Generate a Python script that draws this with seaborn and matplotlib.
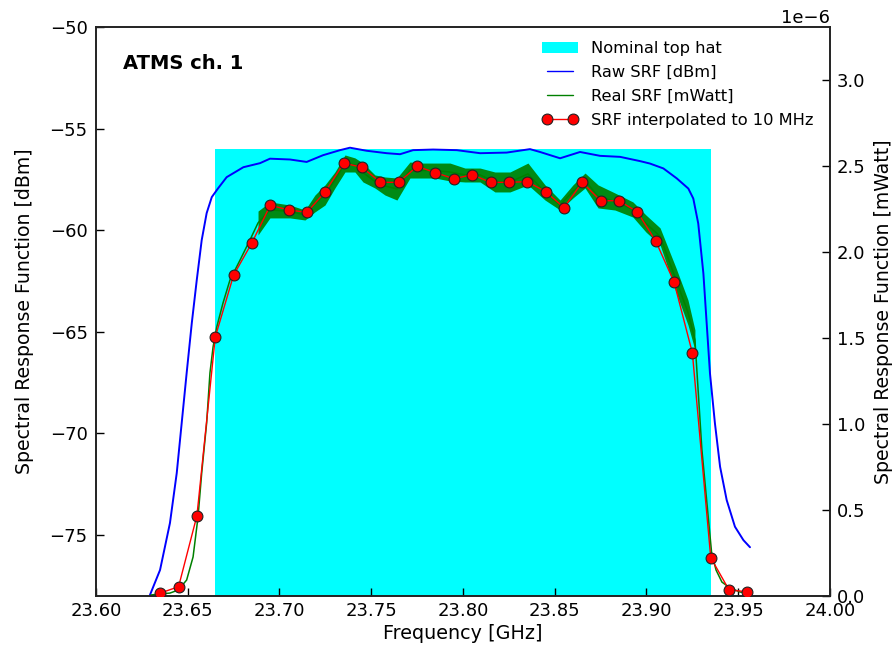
import matplotlib
matplotlib.use("Agg")
import matplotlib.pyplot as plt
import seaborn as sns
import pandas as pd
from matplotlib.ticker import FormatStrFormatter
from matplotlib.patches import Patch
from matplotlib.lines import Line2D

# ---------------- data ----------------
title_text = "ATMS ch. 1"

tophat_edges = [23.665, 23.935]
tophat_level = -56.0          # dBm

raw_freq = [23.6294, 23.6349, 23.6403, 23.6440, 23.6467, 23.6494, 23.6522, 23.6549,
            23.6576, 23.6603, 23.6631, 23.6666, 23.6712, 23.6803, 23.6894, 23.6948,
            23.7057, 23.7148, 23.7237, 23.7330, 23.7384, 23.7475, 23.7584, 23.7657,
            23.7728, 23.7837, 23.7966, 23.8093, 23.8238, 23.8365, 23.8420, 23.8529,
            23.8638, 23.8747, 23.8856, 23.8965, 23.9019, 23.9092, 23.9165, 23.9228,
            23.9255, 23.9282, 23.9310, 23.9328, 23.9346, 23.9373, 23.9401, 23.9437,
            23.9482, 23.9528, 23.9564]
raw_dbm = [-77.95, -76.72, -74.41, -71.95, -69.49, -67.03, -64.57, -62.46,
           -60.49, -59.16, -58.37, -57.93, -57.39, -56.90, -56.70, -56.48,
           -56.52, -56.64, -56.31, -56.06, -55.94, -56.09, -56.21, -56.26,
           -56.06, -56.03, -56.06, -56.21, -56.18, -56.01, -56.15, -56.46,
           -56.15, -56.34, -56.39, -56.60, -56.72, -56.96, -57.45, -57.95,
           -58.44, -59.67, -62.13, -64.59, -67.05, -69.51, -71.64, -73.28,
           -74.59, -75.25, -75.60]

# real SRF [1e-6 mW]: centre line
real_freq = [23.6300, 23.6349, 23.6403, 23.6449, 23.6494, 23.6529, 23.6556, 23.6576,
             23.6603, 23.6621, 23.6638, 23.6658, 23.6692, 23.6730, 23.6785, 23.6839,
             23.6883, 23.6948, 23.7057, 23.7139, 23.7193, 23.7248, 23.7302, 23.7357,
             23.7411, 23.7455, 23.7520, 23.7575, 23.7640, 23.7711, 23.7766, 23.7847,
             23.7929, 23.8011, 23.8093, 23.8174, 23.8256, 23.8354, 23.8447, 23.8529,
             23.8599, 23.8665, 23.8736, 23.8828, 23.8926, 23.8997, 23.9074, 23.9161,
             23.9226, 23.9264, 23.9302, 23.9355, 23.9379, 23.9411, 23.9455, 23.9510,
             23.9564]
real_mw = [0.006, 0.012, 0.017, 0.035, 0.093, 0.227, 0.459, 0.715,
           1.006, 1.297, 1.448, 1.564, 1.703, 1.837, 1.953, 2.070,
           2.169, 2.245, 2.236, 2.215, 2.282, 2.332, 2.419, 2.515,
           2.506, 2.462, 2.410, 2.384, 2.366, 2.477, 2.474, 2.474,
           2.465, 2.448, 2.448, 2.407, 2.407, 2.454, 2.346, 2.273,
           2.352, 2.416, 2.323, 2.294, 2.247, 2.166, 2.091, 1.837,
           1.649, 1.489, 0.849, 0.250, 0.151, 0.081, 0.047, 0.023,
           0.017]

# real SRF noise band [1e-6 mW]
band_freq = [23.6883, 23.6948, 23.7057, 23.7139, 23.7193, 23.7248, 23.7302, 23.7357,
             23.7411, 23.7455, 23.7520, 23.7575, 23.7640, 23.7711, 23.7766, 23.7847,
             23.7929, 23.8011, 23.8093, 23.8174, 23.8256, 23.8354, 23.8447, 23.8529,
             23.8599, 23.8665, 23.8736, 23.8828, 23.8926, 23.8997, 23.9074, 23.9161,
             23.9226, 23.9264]
band_hi = [2.238, 2.291, 2.273, 2.244, 2.331, 2.390, 2.465, 2.564,
           2.547, 2.517, 2.448, 2.436, 2.430, 2.523, 2.517, 2.517,
           2.517, 2.488, 2.488, 2.465, 2.465, 2.517, 2.390, 2.302,
           2.390, 2.459, 2.390, 2.343, 2.291, 2.215, 2.140, 1.907,
           1.721, 1.547]
band_lo = [2.099, 2.198, 2.198, 2.186, 2.233, 2.273, 2.372, 2.465,
           2.465, 2.407, 2.372, 2.331, 2.302, 2.430, 2.430, 2.430,
           2.413, 2.407, 2.407, 2.349, 2.349, 2.390, 2.302, 2.244,
           2.314, 2.372, 2.256, 2.244, 2.203, 2.116, 2.041, 1.767,
           1.576, 1.430]

interp_freq = [23.635, 23.645, 23.655, 23.665, 23.675, 23.685, 23.695, 23.705,
               23.715, 23.725, 23.735, 23.745, 23.755, 23.765, 23.775, 23.785,
               23.795, 23.805, 23.815, 23.825, 23.835, 23.845, 23.855, 23.865,
               23.875, 23.885, 23.895, 23.905, 23.915, 23.925, 23.935, 23.945,
               23.955]
interp_mw = [0.017, 0.054, 0.467, 1.506, 1.866, 2.054, 2.272, 2.244,
             2.231, 2.351, 2.517, 2.492, 2.405, 2.405, 2.498, 2.461,
             2.426, 2.449, 2.405, 2.405, 2.409, 2.351, 2.258, 2.405,
             2.298, 2.298, 2.233, 2.064, 1.826, 1.413, 0.223, 0.035,
             0.025]

xticks = [23.60, 23.65, 23.70, 23.75, 23.80, 23.85, 23.90, 23.95, 24.00]
yticks_left = [-75, -70, -65, -60, -55, -50]
yticks_right = [0.0, 0.5, 1.0, 1.5, 2.0, 2.5, 3.0]
scale_right = 1e-6

# ---------------- style ----------------
sns.set_style("ticks", {"xtick.direction": "in", "ytick.direction": "in",
                        "axes.edgecolor": "black", "axes.labelcolor": "black",
                        "text.color": "black", "xtick.color": "black",
                        "ytick.color": "black"})
plt.rcParams["font.family"] = ["DejaVu Sans"]

fig = plt.figure(figsize=(8.93, 6.46), dpi=100)
ax = fig.add_axes([96 / 893, 50 / 646, 734 / 893, 569 / 646])
ax2 = ax.twinx()

# nominal top hat
ax.fill_between(tophat_edges, [-90, -90], [tophat_level, tophat_level],
                color="#00FFFF", lw=0, zorder=0)

# raw SRF (dBm)
raw_df = pd.DataFrame({"f": raw_freq, "v": raw_dbm})
sns.lineplot(data=raw_df, x="f", y="v", ax=ax, color="blue", lw=1.4,
             sort=False, estimator=None, legend=False)

# real SRF (mW)
real_df = pd.DataFrame({"f": real_freq, "v": [v * scale_right for v in real_mw]})
ax2.fill_between(band_freq, [v * scale_right for v in band_lo],
                 [v * scale_right for v in band_hi],
                 color="green", alpha=0.92, lw=0, zorder=1)
sns.lineplot(data=real_df, x="f", y="v", ax=ax2, color="green", lw=1.1,
             sort=False, estimator=None, legend=False, zorder=2)

# interpolated SRF
int_df = pd.DataFrame({"f": interp_freq, "v": [v * scale_right for v in interp_mw]})
sns.lineplot(data=int_df, x="f", y="v", ax=ax2, color="red", lw=1.0,
             marker="o", markersize=7.8, markerfacecolor="red",
             markeredgecolor="#222222", markeredgewidth=0.8,
             sort=False, estimator=None, legend=False, zorder=3)

# axes
ax.set_xlim(23.60, 24.00)
ax.set_ylim(-78, -50)
ax2.set_ylim(0, 3.308e-6)
ax.set_xticks(xticks)
ax.xaxis.set_major_formatter(FormatStrFormatter("%.2f"))
ax.set_yticks(yticks_left)
ax2.set_yticks([t * scale_right for t in yticks_right])

for a in (ax, ax2):
    a.tick_params(direction="in", length=6, width=1, labelsize=13,
                  colors="black")
    for s in a.spines.values():
        s.set_color("#222222")
        s.set_linewidth(1.2)
ax.tick_params(axis="x", pad=4)
ax.tick_params(axis="y", pad=6, right=False)
ax2.tick_params(axis="y", pad=5)
ax2.yaxis.get_offset_text().set_fontsize(13)

ax.set_xlabel("Frequency [GHz]", fontsize=13.8, labelpad=3, color="black")
ax.set_ylabel("Spectral Response Function [dBm]", fontsize=13.6, labelpad=11.5,
              color="black")
ax2.set_ylabel("Spectral Response Function [mWatt]", fontsize=13.6, labelpad=6,
               color="black")

ax.text(0.037, 0.935, title_text, transform=ax.transAxes, fontsize=14,
        fontweight="bold", va="center", ha="left", color="black")

handles = [Patch(facecolor="#00FFFF", edgecolor="none"),
           Line2D([], [], color="blue", lw=1.0),
           Line2D([], [], color="green", lw=1.0),
           Line2D([], [], color="red", lw=1.0, marker="o", markersize=7.8,
                  markerfacecolor="red", markeredgecolor="#222222",
                  markeredgewidth=0.8)]
labels = ["Nominal top hat", "Raw SRF [dBm]", "Real SRF [mWatt]",
          "SRF interpolated to 10 MHz"]
ax2.legend(handles, labels, loc="upper right", frameon=False, fontsize=11.7,
           numpoints=2, handlelength=2.2, borderaxespad=0.3,
           bbox_to_anchor=(0.993, 0.995), labelspacing=0.55)

fig.savefig("out.png", dpi=100)
